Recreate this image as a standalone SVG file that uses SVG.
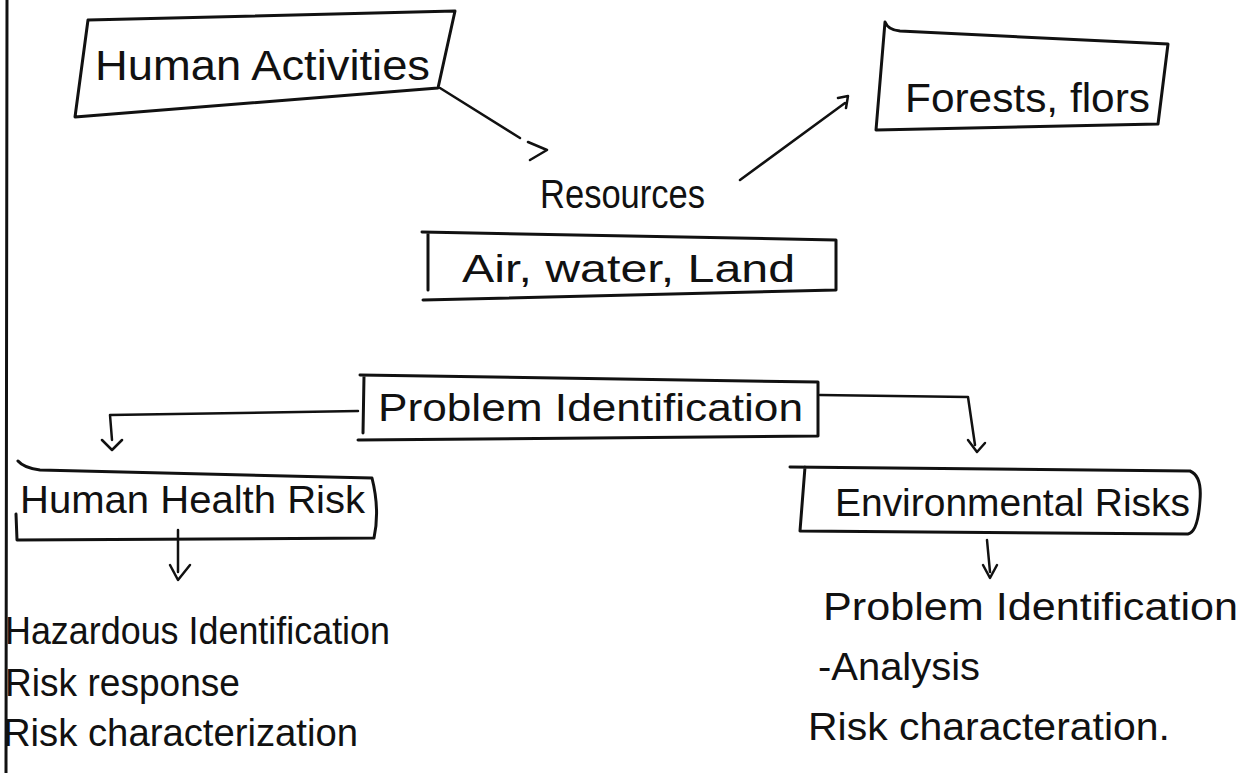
<svg xmlns="http://www.w3.org/2000/svg" width="1245" height="773" viewBox="0 0 1245 773">
<style>
.b{fill:none;stroke:#111;stroke-width:3;stroke-linejoin:round;stroke-linecap:round}
.c{fill:none;stroke:#111;stroke-width:2.5;stroke-linecap:round;stroke-linejoin:round}
.t{font-family:"Liberation Sans",Arial,sans-serif;fill:#111;font-size:38px}
</style>
<rect width="1245" height="773" fill="#fff"/>
<line x1="7" y1="0" x2="6" y2="773" class="b"/>
<g id="human-activities">
<path class="b" d="M88,20 L455,11 L438,88 L75,117 Z"/>
<text class="t" x="95" y="80" style="font-size:42px" textLength="335" lengthAdjust="spacingAndGlyphs">Human Activities</text>
</g>
<g id="resources">
<text class="t" x="540" y="208" style="font-size:40px" textLength="165" lengthAdjust="spacingAndGlyphs">Resources</text>
</g>
<g id="forests">
<path class="b" d="M885,22 Q888,30 900,31 L1168,44 L1158,124 L876,130 Z"/>
<text class="t" x="905" y="112" style="font-size:40px" textLength="245" lengthAdjust="spacingAndGlyphs">Forests, flors</text>
</g>
<g id="air-water-land">
<path class="b" d="M422,232 L836,240 L836,290 L423,300 M428,233 L428,290"/>
<text class="t" x="462" y="282" textLength="333" lengthAdjust="spacingAndGlyphs">Air, water, Land</text>
</g>
<g id="problem-identification">
<path class="b" d="M360,375 L818,382 L818,436 L358,440 M364,376 L363,433"/>
<text class="t" x="378" y="421" textLength="425" lengthAdjust="spacingAndGlyphs">Problem Identification</text>
</g>
<g id="human-health-risk">
<path class="b" d="M18,461 Q24,468 40,470 L372,478 Q380,510 374,538 L17,540 L16,514"/>
<text class="t" x="20" y="513" textLength="345" lengthAdjust="spacingAndGlyphs">Human Health Risk</text>
</g>
<g id="environmental-risks">
<path class="b" d="M790,467 L1190,471 Q1202,476 1200,500 Q1198,532 1188,534 L800,531 M805,467 L800,531"/>
<text class="t" x="835" y="516" textLength="355" lengthAdjust="spacingAndGlyphs">Environmental Risks</text>
</g>
<g id="hhr-list">
<text class="t" x="5" y="644" textLength="385" lengthAdjust="spacingAndGlyphs">Hazardous Identification</text>
<text class="t" x="5" y="696" textLength="235" lengthAdjust="spacingAndGlyphs">Risk response</text>
<text class="t" x="3" y="746" textLength="355" lengthAdjust="spacingAndGlyphs">Risk characterization</text>
</g>
<g id="er-list">
<text class="t" x="823" y="620" textLength="415" lengthAdjust="spacingAndGlyphs">Problem Identification</text>
<text class="t" x="818" y="680" textLength="162" lengthAdjust="spacingAndGlyphs">-Analysis</text>
<text class="t" x="808" y="740" textLength="362" lengthAdjust="spacingAndGlyphs">Risk characteration.</text>
</g>
<g id="connectors">
<path class="c" d="M440,88 L520,138 M528,142 L547,150 L530,160"/>
<path class="c" d="M740,180 L845,103 M838,98 L848,96 L846,108"/>
<path class="c" d="M358,411 L110,415 L112,440 M102,440 L112,450 L122,440"/>
<path class="c" d="M820,395 L968,397 L975,445 M968,440 L977,452 L985,443"/>
<path class="c" d="M178,530 L178,572 M170,565 L178,580 L190,565"/>
<path class="c" d="M987,540 L990,572 M983,565 L990,578 L997,565"/>
</g>
</svg>
